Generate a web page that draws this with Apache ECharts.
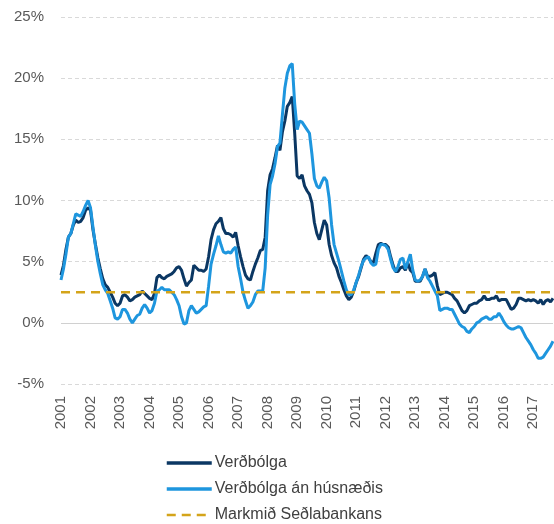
<!DOCTYPE html>
<html>
<head>
<meta charset="utf-8">
<script src="https://cdn.jsdelivr.net/npm/echarts@6/dist/echarts.min.js"></script>
<style>
html,body{margin:0;padding:0;background:#fff;}
#chart{width:554px;height:524px;}
</style>
</head>
<body>
<div id="chart"></div>
<script>
// Year tick labels (one label every 12 months, January)
const yearLabels = ['2001','2002','2003','2004','2005','2006','2007','2008','2009','2010','2011','2012','2013','2014','2015','2016','2017'];
// Number of monthly observations (Jan 2001 .. Sep 2017)
const monthCount = 201;

// Verðbólga (12-month inflation, %)
const verdbolga = [
3.9,4.7,6.0,7.0,7.3,8.0,8.4,8.2,8.3,8.6,9.2,9.4,
9.2,7.6,6.4,5.3,4.4,3.6,3.1,2.9,2.5,2.1,1.6,1.4,
1.6,2.2,2.3,2.1,1.8,1.9,2.1,2.2,2.3,2.6,2.4,2.2,
2.0,1.9,2.4,3.7,3.9,3.7,3.6,3.8,3.9,4.0,4.2,4.5,
4.6,4.3,3.6,3.0,3.3,3.5,4.7,4.5,4.3,4.3,4.2,4.4,
5.4,6.8,7.6,8.1,8.3,8.6,7.7,7.3,7.3,7.2,7.0,7.4,
6.3,5.4,4.6,3.9,3.6,3.5,4.2,4.8,5.3,5.9,6.0,7.0,
10.8,12.1,12.6,13.5,14.5,14.1,15.6,16.5,17.7,18.0,18.5,15.5,
12.0,11.8,12.1,11.2,10.8,10.5,9.8,8.2,7.3,6.8,7.6,8.4,
8.0,6.4,5.5,4.9,4.5,3.8,3.3,2.7,2.2,1.9,2.1,2.6,
3.3,3.8,4.5,5.2,5.5,5.3,5.0,4.9,5.7,6.4,6.5,6.4,
6.4,6.2,5.4,4.7,4.2,4.2,4.5,4.6,4.3,4.9,4.3,4.1,
3.4,3.4,3.4,3.8,4.4,3.8,3.8,3.9,4.1,3.0,2.3,2.4,
2.5,2.5,2.4,2.3,2.0,1.8,1.4,1.0,0.8,1.0,1.4,1.5,
1.6,1.6,1.8,1.9,2.2,1.9,1.9,2.0,2.0,2.2,1.8,1.9,
1.9,1.9,1.5,1.1,1.2,1.5,2.0,2.0,1.9,1.8,1.9,1.8,
1.9,1.8,1.6,1.9,1.5,1.8,1.9,1.7,2.0
];

// Verðbólga án húsnæðis (inflation excluding housing, %)
const verdbolgaAnHusnaedis = [
3.5,4.4,5.6,7.0,7.3,8.1,8.9,8.8,8.7,9.1,9.6,10.0,
9.4,7.8,6.3,5.0,4.0,3.1,2.7,2.4,1.8,1.2,0.4,0.3,
0.5,1.1,1.1,0.8,0.3,0.0,0.3,0.6,0.7,1.2,1.5,1.2,
0.8,1.0,1.6,2.6,2.7,2.9,2.7,2.7,2.7,2.5,2.3,1.9,
1.4,0.5,-0.1,0.0,1.0,1.4,1.1,0.8,0.9,1.1,1.3,1.4,
3.0,4.8,5.6,6.3,7.1,6.4,5.8,5.7,5.8,5.7,6.0,6.2,
4.6,3.6,2.5,1.8,1.2,1.4,1.7,2.3,2.6,2.6,2.6,4.5,
8.8,11.3,12.0,13.0,14.4,14.7,17.0,19.2,20.4,21.0,21.2,17.9,
15.8,16.5,16.4,16.1,15.8,15.5,13.8,11.8,11.2,11.0,11.5,11.9,
11.6,10.2,8.0,6.4,5.7,5.0,4.2,3.4,2.7,2.3,2.3,2.7,
3.3,3.9,4.6,5.1,5.3,5.4,4.9,4.7,4.8,6.0,6.4,6.4,
6.3,6.0,5.2,4.5,4.2,4.6,5.2,5.3,4.4,5.0,5.6,4.3,
3.5,3.4,3.5,3.8,4.4,3.7,3.4,3.0,2.6,2.2,1.0,1.1,
1.2,1.2,1.1,1.1,0.7,0.3,-0.1,-0.3,-0.4,-0.7,-0.8,-0.5,
-0.3,0.0,0.1,0.3,0.4,0.5,0.3,0.3,0.5,0.5,0.8,0.5,
0.1,-0.2,-0.4,-0.5,-0.5,-0.4,-0.3,-0.4,-0.8,-1.2,-1.5,-1.8,
-2.2,-2.5,-2.9,-2.9,-2.8,-2.5,-2.2,-1.9,-1.5
];

// Markmið Seðlabankans (inflation target, %)
const inflationTarget = 2.5;

// Y-axis ticks
const yTicks = [-5, 0, 5, 10, 15, 20, 25];

// Build monthly categories from the year labels
const categories = [];
for (let i = 0; i < monthCount; i++) {
  const y = yearLabels[Math.floor(i / 12)] || String(2001 + Math.floor(i / 12));
  categories.push(y + '-' + String(i % 12 + 1).padStart(2, '0'));
}
const targetSeries = categories.map(() => inflationTarget);

const FONT = '"Liberation Sans", Arial, sans-serif';
const chart = echarts.init(document.getElementById('chart'), null, {renderer: 'canvas'});
chart.setOption({
  animation: false,
  backgroundColor: '#ffffff',
  textStyle: {fontFamily: FONT},
  grid: {left: 61, right: 1, top: 17, bottom: 140, containLabel: false},
  legend: {
    orient: 'vertical',
    left: 165,
    top: 455,
    padding: 0,
    itemWidth: 45,
    itemHeight: 14,
    itemGap: 10,
    itemStyle: {opacity: 0},
    textStyle: {fontSize: 16, lineHeight: 16, color: '#404040', fontFamily: FONT, padding: [0,0,0,-2]},
    data: [
      {name: 'Verðbólga', lineStyle: {width: 3.5}},
      {name: 'Verðbólga án húsnæðis', lineStyle: {width: 3.5}},
      {name: 'Markmið Seðlabankans', lineStyle: {width: 2.5}}
    ]
  },
  xAxis: {
    type: 'category',
    data: categories,
    boundaryGap: false,
    axisLine: {show: false, onZero: false},
    axisTick: {show: false},
    splitLine: {show: false},
    axisLabel: {
      interval: 11,
      rotate: 90,
      margin: 12,
      fontSize: 15,
      color: '#595959',
      fontFamily: FONT,
      formatter: (v) => v.slice(0, 4)
    }
  },
  yAxis: {
    type: 'value',
    min: yTicks[0],
    max: yTicks[yTicks.length - 1],
    interval: 5,
    axisLine: {show: false},
    axisTick: {show: false},
    axisLabel: {fontSize: 15, color: '#595959', margin: 17, fontFamily: FONT, formatter: '{value}%'},
    splitLine: {lineStyle: {color: '#d9d9d9', width: 1, type: [4, 3]}}
  },
  series: [
    {
      name: 'Verðbólga',
      type: 'line',
      data: verdbolga,
      symbol: 'none',
      lineStyle: {color: '#0b3763', width: 3},
      itemStyle: {color: '#0b3763'},
      z: 3,
      markLine: {
        silent: true,
        symbol: 'none',
        label: {show: false},
        lineStyle: {color: '#d0d0d0', width: 1, type: 'solid'},
        data: [{yAxis: 0}],
        z: 1
      }
    },
    {
      name: 'Verðbólga án húsnæðis',
      type: 'line',
      data: verdbolgaAnHusnaedis,
      symbol: 'none',
      lineStyle: {color: '#1e96de', width: 3},
      itemStyle: {color: '#1e96de'},
      z: 4
    },
    {
      name: 'Markmið Seðlabankans',
      type: 'line',
      data: targetSeries,
      symbol: 'none',
      lineStyle: {color: '#d4a41a', width: 2.5, type: [9, 6]},
      itemStyle: {color: '#d4a41a'},
      z: 5
    }
  ]
});
</script>
</body>
</html>
